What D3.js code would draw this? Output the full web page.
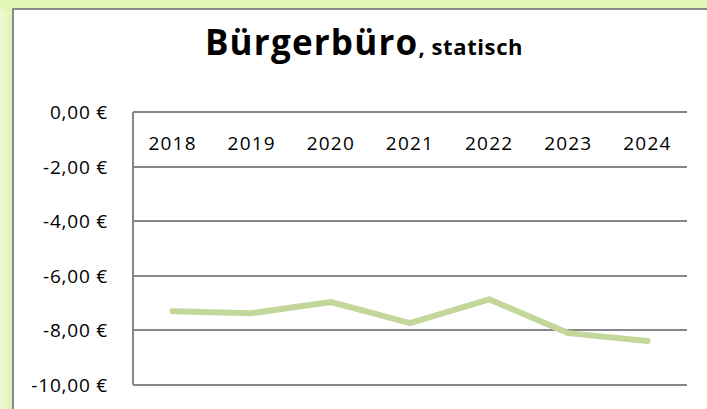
<!DOCTYPE html>
<html lang="de">
<head>
<meta charset="UTF-8">
<title>Bürgerbüro, statisch</title>
<script src="https://d3js.org/d3.v7.min.js"></script>
<style>
    body { margin: 0; background: #fff; }
    svg { display: block; font-family: "Open Sans", "Noto Sans", sans-serif; }
    .grid line { stroke: #878787; stroke-width: 2px; shape-rendering: crispEdges; }
    .tick-label { font-size: 19px; fill: #000; }
</style>
</head>
<body>
<div id="chart"></div>
<script>
    // data
    var years = ["2018", "2019", "2020", "2021", "2022", "2023", "2024"];
    var values = [-7.30, -7.37, -6.96, -7.73, -6.86, -8.10, -8.39];
    var yTicks = [0, -2, -4, -6, -8, -10];

    var W = 707, H = 409;
    var plot = {left: 133, top: 112, right: 687, bottom: 385};

    var svg = d3.select("#chart").append("svg")
        .attr("width", W)
        .attr("height", H);

    // green glow frame
    var defs = svg.append("defs");
    var g1 = defs.append("linearGradient").attr("id", "glowL")
        .attr("x1", "0").attr("x2", "1").attr("y1", "0").attr("y2", "0");
    g1.append("stop").attr("offset", "0%").attr("stop-color", "#eef9d6");
    g1.append("stop").attr("offset", "100%").attr("stop-color", "#dcf3ae");

    svg.append("rect").attr("width", W).attr("height", H).attr("fill", "#e0f5b6");
    svg.append("rect").attr("x", 0).attr("y", 9).attr("width", 13).attr("height", H)
        .attr("fill", "url(#glowL)");

    // white chart panel
    svg.append("rect").attr("x", 13).attr("y", 9).attr("width", W).attr("height", H)
        .attr("fill", "#fff");
    svg.append("path")
        .attr("d", "M13," + H + "V9H" + W)
        .attr("fill", "none")
        .attr("stroke", "#8a8a8a")
        .attr("stroke-width", 2);

    // title
    var title = svg.append("text")
        .attr("x", 364)
        .attr("y", 55)
        .attr("text-anchor", "middle")
        .attr("font-weight", "bold");
    title.append("tspan").attr("font-size", "35px").attr("letter-spacing", "1.2px").text("Bürgerbüro");
    title.append("tspan").attr("font-size", "22px").attr("letter-spacing", "0.6px").text(", statisch");

    // scales
    var x = d3.scaleBand().domain(years).range([plot.left, plot.right]);
    var y = d3.scaleLinear().domain([-10, 0]).range([plot.bottom, plot.top]);

    // horizontal gridlines
    svg.append("g").attr("class", "grid")
        .selectAll("line").data(yTicks).enter().append("line")
        .attr("x1", plot.left).attr("x2", plot.right)
        .attr("y1", function(d){ return y(d); })
        .attr("y2", function(d){ return y(d); });

    // left axis line
    svg.append("g").attr("class", "grid").append("line")
        .attr("x1", plot.left).attr("x2", plot.left)
        .attr("y1", y(0)).attr("y2", y(-10));

    // y labels
    var fmt = function(d){ return d3.format(".2f")(d).replace("−", "-").replace(".", ",") + " €"; };
    svg.append("g").selectAll("text").data(yTicks).enter().append("text")
        .attr("class", "tick-label")
        .attr("x", 108)
        .attr("y", function(d){ return y(d) + 7; })
        .attr("text-anchor", "end")
        .attr("letter-spacing", "0.8px")
        .text(fmt);

    // category labels along the zero line
    svg.append("g").selectAll("text").data(years).enter().append("text")
        .attr("class", "tick-label")
        .attr("x", function(d){ return x(d) + x.bandwidth() / 2; })
        .attr("y", 150)
        .attr("text-anchor", "middle")
        .attr("letter-spacing", "1.2px")
        .text(function(d){ return d; });

    // line
    var line = d3.line()
        .x(function(d, i){ return x(years[i]) + x.bandwidth() / 2; })
        .y(function(d){ return y(d); });

    svg.append("path")
        .datum(values)
        .attr("d", line)
        .attr("fill", "none")
        .attr("stroke", "#c3d79b")
        .attr("stroke-width", 6)
        .attr("stroke-linecap", "round")
        .attr("stroke-linejoin", "round");
</script>
</body>
</html>
